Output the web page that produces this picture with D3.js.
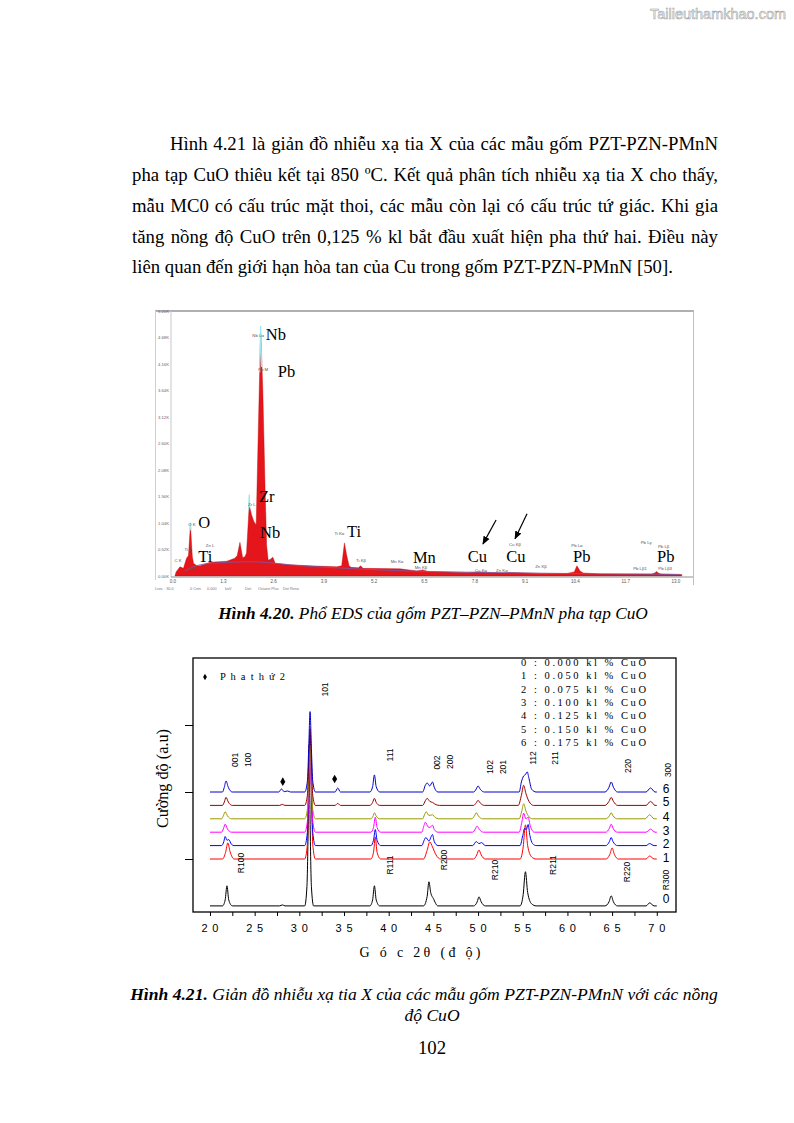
<!DOCTYPE html>
<html><head><meta charset="utf-8">
<script src="https://cdn.jsdelivr.net/npm/d3@7"></script>
<style>html,body{margin:0;padding:0;background:#fff;}svg{display:block;}</style>
</head><body>
<svg id="page" width="794" height="1123"></svg>
<script>
// ---------------- DATA ----------------
const watermark = "Tailieuthamkhao.com";
const paraLines = [
 "Hình 4.21 là giản đồ nhiễu xạ tia X của các mẫu gốm PZT-PZN-PMnN",
 "pha tạp CuO thiêu kết tại 850 ºC. Kết quả phân tích nhiễu xạ tia X cho thấy,",
 "mẫu MC0 có cấu trúc mặt thoi, các mẫu còn lại có cấu trúc tứ giác. Khi gia",
 "tăng nồng độ CuO trên 0,125 % kl bắt đầu xuất hiện pha thứ hai. Điều này",
 "liên quan đến giới hạn hòa tan của Cu trong gốm PZT-PZN-PMnN [50]."
];
const caption1 = [["Hình 4.20.", true], [" Phổ EDS của gốm PZT–PZN–PMnN pha tạp CuO", false]];
const caption2a = [["Hình 4.21.", true], [" Giản đồ nhiễu xạ tia X của các mẫu gốm PZT-PZN-PMnN với các nồng", false]];
const caption2b = "độ CuO";
const pageNumber = "102";

// EDS spectrum (energy keV, counts K)
const edsXTicks = [0.0, 1.3, 2.6, 3.9, 5.2, 6.5, 7.8, 9.1, 10.4, 11.7, 13.0];
const edsYTicks = [0, 0.52, 1.04, 1.56, 2.08, 2.60, 3.12, 3.64, 4.16, 4.68, 5.20];
const edsSpectrum = [
 [0.05,0],[0.08,0.08],[0.18,0.18],[0.27,0.15],[0.35,0.35],[0.40,0.40],[0.45,1.0],[0.50,0.38],[0.53,0.25],
 [0.62,0.2],[0.7,0.2],[0.96,0.27],[1.39,0.29],[1.6,0.35],[1.66,0.4],[1.73,0.66],[1.8,0.36],[1.86,0.38],
 [1.9,0.45],[1.95,1.13],[1.97,1.39],[2.03,1.2],[2.09,1.07],[2.15,1.0],[2.2,2.7],[2.25,4.34],[2.27,4.76],
 [2.32,3.68],[2.38,1.72],[2.42,0.6],[2.46,0.31],[2.52,0.33],[2.58,0.37],[2.64,0.25],[3.02,0.22],[3.54,0.2],
 [4.23,0.18],[4.36,0.2],[4.38,0.33],[4.43,0.65],[4.49,0.4],[4.55,0.2],[4.6,0.17],[4.79,0.16],[4.85,0.2],
 [4.91,0.15],[5.87,0.14],[6.3,0.1],[6.45,0.12],[6.6,0.09],[7.59,0.07],[7.9,0.08],[8.5,0.06],[8.71,0.07],
 [9.5,0.05],[10.17,0.05],[10.37,0.08],[10.44,0.2],[10.52,0.1],[10.6,0.06],[11.03,0.04],[12.37,0.04],
 [12.45,0.06],[12.5,0.09],[12.56,0.05],[12.63,0.04],[13.15,0.03],[13.15,0]
];
const edsCyanTips = [
 [[2.24,4.0],[2.265,4.91],[2.29,4.1]],
 [[1.955,1.3],[1.97,1.6],[1.985,1.35]],
 [[0.44,0.9],[0.45,1.05],[0.46,0.9]]
];
const edsBackground = [[0.3,0.1],[0.6,0.2],[1.0,0.25],[1.5,0.27],[2.0,0.28],[2.5,0.26],[3.0,0.22],[4,0.17],[5,0.13],[6.5,0.09],[8,0.07],[10,0.05],[13.1,0.03]];
const edsSmallLabels = [
 ["Nb Lα",2.2,4.69],["Pb M",2.33,4.02],["Zr L",2.04,1.37],["O K",0.49,0.98],["Ti L",0.39,0.49],
 ["C K",0.13,0.27],["Mn L",0.55,0.12],["Zn L",0.96,0.57],["Ti Kα",4.3,0.8],["Ti Kβ",4.86,0.27],
 ["Mn Kα",5.79,0.26],["Mn Kβ",6.41,0.13],["Cu Kα",7.96,0.08],["Zn Kα",8.5,0.08],["Cu Kβ",8.84,0.59],
 ["Zn Kβ",9.51,0.16],["Pb Lα",10.44,0.57],["Pb Lγ",12.23,0.63],["Pb Lβ",12.68,0.55],["Pb Lβ1",12.07,0.12],["Pb Lβ3",12.72,0.12]
];
const edsBigLabels = [
 ["Nb",2.40,4.63],["Pb",2.71,3.9],["Zr",2.22,1.45],["Nb",2.25,0.75],["O",0.65,0.94],["Ti",0.65,0.27],
 ["Ti",4.5,0.77],["Mn",6.2,0.26],["Cu",7.62,0.27],["Cu",8.61,0.27],["Pb",10.34,0.27],["Pb",12.51,0.27]
];
const edsArrows = [[[8.35,1.10],[8.01,0.63]], [[9.15,1.22],[8.84,0.73]]];
const edsStatus = [["Lsec : 30.0",155],["0 Cnts",190],["0.000",207],["keV",225],["Det:",245],["Octane Plus",258],["Det Reso",283]];

// XRD (2θ deg, intensity a.u. above each curve's baseline)
const xrdXTicks = [20,25,30,35,40,45,50,55,60,65,70];
const xrdOffsets = [300, 1000, 1200, 1400, 1600, 1800, 2000];
const xrdColors = ["#000000","#ff0000","#0000ff","#ff00ff","#999900","#990000","#0000cc"];
const xrd0 = [[20,0],[21.4,0],[21.7,90],[21.9,300],[22.1,90],[22.5,0],[27.8,0],[28.1,15],[28.4,0],
 [30.6,0],[30.85,290],[31.0,1300],[31.1,2400],[31.2,1300],[31.35,290],[31.6,0],
 [37.9,0],[38.2,90],[38.4,300],[38.6,90],[39.0,0],[43.9,0],[44.3,140],[44.5,360],[44.7,200],[45.0,110],[45.5,0],
 [49.5,0],[49.9,60],[50.1,135],[50.35,60],[50.8,0],[54.7,0],[55.05,170],[55.3,510],[55.55,200],[56.0,30],[56.5,0],
 [64.2,0],[64.65,60],[64.9,150],[65.15,60],[65.6,0],[68.8,0],[69.2,45],[69.7,0],[70,0]];
const xrd1 = [[20,0],[21.4,0],[21.75,100],[22.0,240],[22.25,110],[22.7,0],
 [30.6,0],[30.9,220],[31.05,1000],[31.2,1785],[31.35,1000],[31.5,220],[31.8,0],
 [38.0,0],[38.3,100],[38.5,330],[38.7,100],[39.1,0],[43.9,0],[44.3,130],[44.6,255],[44.9,180],[45.3,60],[45.8,0],
 [49.5,0],[49.85,60],[50.1,135],[50.35,60],[50.8,0],[54.7,0],[55.05,180],[55.3,510],[55.55,200],[56.0,30],[56.5,0],
 [64.3,0],[64.75,70],[65.0,165],[65.25,70],[65.7,0],[68.8,0],[69.2,45],[69.7,0],[70,0]];
const xrd2 = [[20,0],[21.3,0],[21.55,60],[21.7,135],[21.9,80],[22.1,90],[22.4,20],[22.7,0],
 [30.6,0],[30.9,200],[31.05,900],[31.2,1650],[31.35,900],[31.5,200],[31.8,0],
 [38.0,0],[38.3,80],[38.5,240],[38.7,80],[39.1,0],[43.7,0],[44.0,90],[44.15,120],[44.5,70],[44.9,165],[45.1,60],[45.5,0],
 [49.4,0],[49.8,60],[50.1,30],[50.4,45],[50.8,0],[54.7,0],[55.0,150],[55.2,255],[55.4,240],[55.6,315],[55.8,150],[56.1,30],[56.5,0],
 [64.3,0],[64.7,60],[64.9,120],[65.1,60],[65.6,0],[68.8,0],[69.2,30],[69.7,0],[70,0]];
const xrd3 = [[20,0],[21.3,0],[21.5,50],[21.7,120],[21.95,50],[22.4,0],
 [30.6,0],[30.9,160],[31.05,700],[31.2,1300],[31.35,700],[31.5,160],[31.8,0],
 [38.0,0],[38.3,70],[38.5,225],[38.7,70],[39.1,0],[43.7,0],[43.95,100],[44.1,150],[44.4,80],[44.6,70],[44.9,105],[45.1,40],[45.5,0],
 [49.4,0],[49.7,50],[49.9,90],[50.15,40],[50.6,0],[54.6,0],[54.9,150],[55.1,285],[55.35,200],[55.6,225],[55.85,90],[56.3,0],
 [64.3,0],[64.7,60],[64.9,120],[65.1,60],[65.6,0],[68.8,0],[69.3,45],[69.8,0],[70,0]];
const xrd4 = [[20,0],[21.3,0],[21.5,45],[21.7,105],[21.95,45],[22.4,0],
 [30.6,0],[30.9,140],[31.05,600],[31.2,1100],[31.35,600],[31.5,140],[31.8,0],
 [38.0,0],[38.25,40],[38.4,90],[38.6,40],[39.0,0],[43.8,0],[44.0,60],[44.2,105],[44.5,50],[44.9,60],[45.2,20],[45.6,0],
 [49.3,0],[49.6,45],[49.8,90],[50.05,40],[50.5,0],[54.6,0],[54.9,120],[55.1,225],[55.35,120],[55.7,30],[56.1,0],
 [64.3,0],[64.7,45],[64.9,90],[65.1,45],[65.6,0],[68.7,0],[69.2,60],[69.7,0],[70,0]];
const xrd5 = [[20,0],[21.4,0],[21.6,50],[21.8,120],[22.05,50],[22.5,0],[27.8,0],[28.1,15],[28.4,0],
 [30.6,0],[30.9,150],[31.05,650],[31.2,1150],[31.35,650],[31.5,150],[31.8,0],[34.0,0],[34.3,30],[34.6,0],
 [37.9,0],[38.2,45],[38.4,105],[38.6,45],[39.0,0],[43.8,0],[44.1,70],[44.3,105],[44.6,60],[44.9,45],[45.3,10],[45.7,0],
 [49.5,0],[49.8,40],[50.0,75],[50.25,35],[50.7,0],[54.5,0],[54.85,150],[55.1,300],[55.35,180],[55.7,60],[56.2,0],
 [64.2,0],[64.65,60],[64.9,120],[65.15,60],[65.6,0],[68.8,0],[69.3,60],[69.8,0],[70,0]];
const xrd6 = [[20,0],[21.4,0],[21.6,70],[21.8,165],[22.05,70],[22.5,0],[27.7,0],[28.0,45],[28.3,5],[28.7,15],[29.0,0],
 [30.6,0],[30.9,160],[31.05,650],[31.2,1200],[31.35,650],[31.5,160],[31.8,0],[34.0,0],[34.3,60],[34.6,0],
 [37.9,0],[38.2,80],[38.4,255],[38.6,80],[39.0,0],[43.8,0],[44.1,100],[44.3,135],[44.6,90],[44.9,150],[45.1,70],[45.5,0],
 [49.5,0],[49.8,45],[50.0,90],[50.25,40],[50.7,0],[54.6,0],[54.85,150],[55.1,240],[55.3,260],[55.5,300],[55.7,200],[56.0,40],[56.5,0],
 [64.2,0],[64.65,70],[64.9,150],[65.15,70],[65.6,0],[68.8,0],[69.3,60],[69.8,0],[70,0]];
const xrdCurves = [xrd0, xrd1, xrd2, xrd3, xrd4, xrd5, xrd6];
const xrdCurveLabels = [["0",403],["1",1015],["2",1224],["3",1418],["4",1627],["5",1851],["6",2045]];
const xrdHkl = [["101",32.86,3530],["001",22.76,2478],["100",24.2,2478],["111",40.17,2552],["002",45.43,2440],
 ["200",46.88,2448],["102",51.3,2373],["201",52.74,2373],["112",56.16,2507],["211",58.6,2507],["220",66.8,2388],["300",71.26,2328],
 ["R100",23.47,940],["R111",40.13,910],["R200",46.17,985],["R210",51.88,836],["R211",58.4,910],["R220",66.68,806],["R300",71.08,687]];
const xrdSecondPhase = [[28.15,2154],[33.95,2194]];
const xrdLegend = ["0 : 0.000 kl % CuO","1 : 0.050 kl % CuO","2 : 0.075 kl % CuO","3 : 0.100 kl % CuO","4 : 0.125 kl % CuO","5 : 0.150 kl % CuO","6 : 0.175 kl % CuO"];
const xrdPhaseLegend = "P h a  t h ứ  2";
const xrdYLabel = "Cường độ (a.u)";
const xrdXLabel = "G ó c  2θ  (đ ộ)";

// ---------------- DRAW ----------------
const SERIF = "'Liberation Serif','Times New Roman',serif";
const SANS = "'Liberation Sans',Arial,sans-serif";
const svg = d3.select("#page");
function fit(sel, base, target){ const w = sel.node().getComputedTextLength(); sel.attr("font-size", base*target/w); return base*target/w; }

// watermark
svg.append("text").attr("x",650).attr("y",19).attr("font-family",SANS).attr("font-size",14)
 .attr("fill","#f6f6f6").attr("stroke","#999").attr("stroke-width",0.5)
 .attr("textLength",136).attr("lengthAdjust","spacingAndGlyphs").text(watermark);

// paragraph
const paraStart = [170,132,132,132,132], paraEnd = 718, paraBase = [150,181,212,242.5,273];
const probe = svg.append("text").attr("font-family",SERIF).attr("font-size",17.5).text(paraLines[4]);
const pfs = 17.5*541/probe.node().getComputedTextLength(); probe.remove();
paraLines.forEach((t,i)=>{
  const el = svg.append("text").attr("x",paraStart[i]).attr("y",paraBase[i]).attr("font-family",SERIF).attr("font-size",pfs).attr("fill","#000").text(t);
  if(i<4){ const w = el.node().getComputedTextLength(); const n = (t.match(/ /g)||[]).length; el.style("word-spacing",((paraEnd-paraStart[i]-w)/n)+"px"); }
});

// ---- EDS chart ----
const ex = d3.scaleLinear().domain([0,13]).range([173,676]);
const ey = d3.scaleLinear().domain([0,5.2]).range([576,311]);
const eds = svg.append("g");
eds.append("line").attr("x1",155).attr("x2",694).attr("y1",311).attr("y2",311).attr("stroke","#b0b0b0").attr("stroke-width",2);
eds.append("line").attr("x1",155.5).attr("x2",155.5).attr("y1",311).attr("y2",580).attr("stroke","#d0d0d0");
eds.append("line").attr("x1",693.5).attr("x2",693.5).attr("y1",311).attr("y2",585).attr("stroke","#c0c0c0");
eds.append("line").attr("x1",171).attr("x2",171).attr("y1",311).attr("y2",577).attr("stroke","#c8c8c8");
eds.append("path").datum(edsSpectrum).attr("fill","#e4161b").attr("stroke","#c00000").attr("stroke-width",0.4)
 .attr("d", d3.area().x(d=>ex(d[0])).y0(ey(0)).y1(d=>ey(d[1])));
eds.append("path").datum(edsBackground).attr("fill","none").attr("stroke","#7a5aa8").attr("stroke-width",0.8)
 .attr("d", d3.line().x(d=>ex(d[0])).y(d=>ey(d[1])).curve(d3.curveMonotoneX));
edsCyanTips.forEach(s=> eds.append("path").datum(s).attr("fill","none").attr("stroke","#9fe3ec").attr("stroke-width",1.2)
 .attr("d", d3.line().x(d=>ex(d[0])).y(d=>ey(d[1]))));
eds.append("line").attr("x1",171).attr("x2",693).attr("y1",577).attr("y2",577).attr("stroke","#909090").attr("stroke-width",1);
eds.selectAll(".ext").data(edsXTicks).join("text").attr("x",d=>ex(d)).attr("y",583).attr("text-anchor","middle")
 .attr("font-family",SANS).attr("font-size",4.5).attr("fill","#555").text(d=>d.toFixed(1));
eds.selectAll(".eyt").data(edsYTicks).join("text").attr("x",169).attr("y",d=>ey(d)+1.5).attr("text-anchor","end")
 .attr("font-family",SANS).attr("font-size",4.2).attr("fill","#666").text(d=>d.toFixed(2)+"K");
eds.selectAll(".est").data(edsStatus).join("text").attr("x",d=>d[1]).attr("y",590).attr("font-family",SANS)
 .attr("font-size",3.8).attr("fill","#777").text(d=>d[0]);
eds.selectAll(".esl").data(edsSmallLabels).join("text").attr("x",d=>ex(d[1])).attr("y",d=>ey(d[2])).attr("text-anchor","middle")
 .attr("font-family",SANS).attr("font-size",4.3).attr("fill","#555").text(d=>d[0]);
eds.selectAll(".ebl").data(edsBigLabels).join("text").attr("x",d=>ex(d[1])).attr("y",d=>ey(d[2]))
 .attr("font-family",SERIF).attr("font-size",16.5).attr("fill","#000").text(d=>d[0]);
svg.append("defs").append("marker").attr("id","ah").attr("viewBox","0 0 10 10").attr("refX",9).attr("refY",5)
 .attr("markerWidth",7).attr("markerHeight",7).attr("orient","auto").append("path").attr("d","M0,1 L10,5 L0,9 Z").attr("fill","#000");
edsArrows.forEach(a=> eds.append("line").attr("x1",ex(a[0][0])).attr("y1",ey(a[0][1])).attr("x2",ex(a[1][0])).attr("y2",ey(a[1][1]))
 .attr("stroke","#000").attr("stroke-width",1.2).attr("marker-end","url(#ah)"));

// caption 1
function caption(parts, cx, y){ const t = svg.append("text").attr("x",cx).attr("y",y).attr("text-anchor","middle")
  .attr("font-family",SERIF).attr("font-size",16).attr("font-style","italic").attr("fill","#000");
  parts.forEach(p=> t.append("tspan").attr("font-weight",p[1]?"bold":"normal").text(p[0])); return t; }
const c1 = caption(caption1, 433, 619); fit(c1,16,430);

// ---- XRD chart ----
const xx = d3.scaleLinear().domain([18.1,72.15]).range([193,676]);
const xy = d3.scaleLinear().domain([209,4000]).range([912,658]);
const xrd = svg.append("g");
const ln = d3.line().x(d=>xx(d[0])).curve(d3.curveMonotoneX);
xrdCurves.forEach((c,i)=>{
  xrd.append("path").datum(c).attr("fill","none").attr("stroke",xrdColors[i]).attr("stroke-width",1)
   .attr("d", ln.y(d=>xy(d[1]+xrdOffsets[i])));
});
xrd.append("rect").attr("x",193).attr("y",658).attr("width",483).attr("height",254).attr("fill","none").attr("stroke","#000").attr("stroke-width",1.3);
const gx = xrd.append("g").attr("transform","translate(0,912)")
 .call(d3.axisBottom(xx).tickValues(d3.range(20,70.01,2.5)).tickSize(4).tickFormat(""));
gx.select(".domain").remove(); gx.selectAll("line").attr("stroke-width",1);
const gy = xrd.append("g").attr("transform","translate(193,0)")
 .call(d3.axisLeft(xy).tickValues([1000,2000,3000]).tickSize(8).tickFormat(""));
gy.select(".domain").remove(); gy.selectAll("line").attr("stroke-width",1);
xrd.selectAll(".xtl").data(xrdXTicks).join("text").attr("x",d=>xx(d)).attr("y",932).attr("text-anchor","middle")
 .attr("font-family",SANS).attr("font-size",11).attr("fill","#000").attr("textLength",17).attr("lengthAdjust","spacing")
 .text(d=>String(d).split("").join(" "));
xrd.selectAll(".hkl").data(xrdHkl).join("text").attr("transform",d=>`translate(${xx(d[1])},${xy(d[2])}) rotate(-90)`)
 .attr("text-anchor","middle").attr("dominant-baseline","central").attr("font-family",SANS).attr("font-size",8.5).attr("fill","#000").text(d=>d[0]);
xrd.selectAll(".cl").data(xrdCurveLabels).join("text").attr("x",xx(71.05)).attr("y",d=>xy(d[1])).attr("text-anchor","middle")
 .attr("dominant-baseline","central").attr("font-family",SANS).attr("font-size",12).attr("fill","#000").text(d=>d[0]);
xrd.selectAll(".dm").data(xrdSecondPhase).join("path").attr("transform",d=>`translate(${xx(d[0])},${xy(d[1])})`)
 .attr("d", d3.symbol().type(d3.symbolDiamond).size(22)).attr("fill","#000");
xrd.append("path").attr("transform","translate(205,677)").attr("d", d3.symbol().type(d3.symbolDiamond).size(12)).attr("fill","#000");
xrd.append("text").attr("x",220).attr("y",680).attr("font-family",SERIF).attr("font-size",10.5).attr("fill","#000")
 .attr("textLength",65).attr("lengthAdjust","spacing").text(xrdPhaseLegend);
xrd.selectAll(".lg").data(xrdLegend).join("text").attr("x",521).attr("y",(d,i)=>666+i*13.33)
 .attr("font-family",SERIF).attr("font-size",10.5).attr("fill","#000").attr("textLength",125).attr("lengthAdjust","spacing").text(d=>d);
const yl = xrd.append("text").attr("transform","translate(168,778.5) rotate(-90)").attr("text-anchor","middle")
 .attr("font-family",SERIF).attr("font-size",15).attr("fill","#000").text(xrdYLabel); fit(yl,15,99);
xrd.append("text").attr("x",420).attr("y",957).attr("text-anchor","middle").attr("font-family",SERIF).attr("font-size",14).attr("fill","#000")
 .attr("textLength",121).attr("lengthAdjust","spacing").text(xrdXLabel);

// caption 2 + page number
const c2 = caption(caption2a, 424, 1000); const cfs = fit(c2,16,588);
caption([[caption2b,false]], 432, 1021).attr("font-size", cfs);
svg.append("text").attr("x",432).attr("y",1054).attr("text-anchor","middle").attr("font-family",SERIF).attr("font-size",pfs).attr("fill","#000").text(pageNumber);
</script>
</body></html>
